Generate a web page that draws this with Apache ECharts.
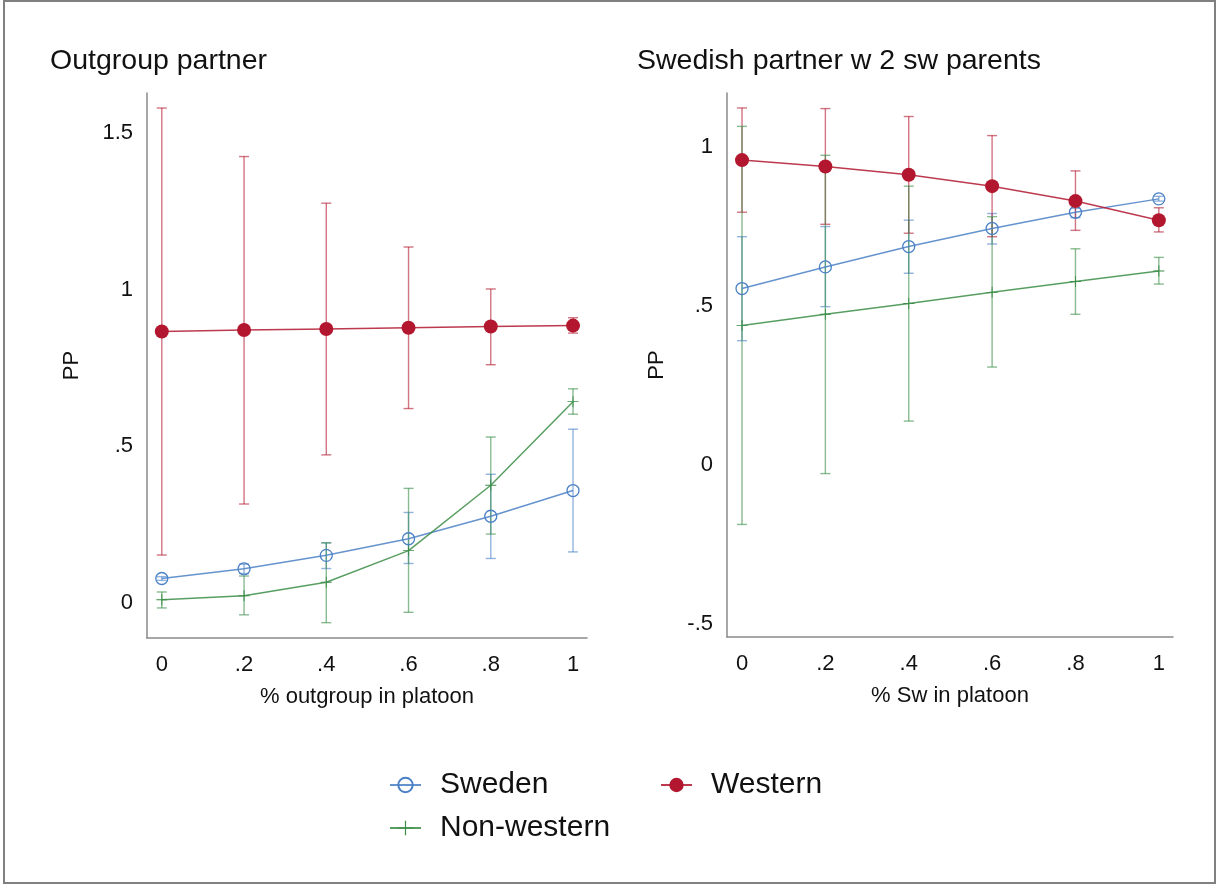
<!DOCTYPE html>
<html>
<head>
<meta charset="utf-8">
<script src="https://cdn.jsdelivr.net/npm/echarts@6/dist/echarts.min.js"></script>
<style>
  html, body { margin: 0; padding: 0; background: #fff; }
  #chart { width: 1216px; height: 884px; }
</style>
</head>
<body>
<div id="chart"></div>
<script>
// share of group in platoon (x positions, both panels)
const xVals = [0, 0.2, 0.4, 0.6, 0.8, 1];
const xTicks = [0, 0.2, 0.4, 0.6, 0.8, 1];

// left panel: Outgroup partner
const ogYTicks = [0, 0.5, 1, 1.5];
const ogSweden = [0.078, 0.109, 0.152, 0.205, 0.277, 0.359];
const ogSwedenLo = [0.072, 0.094, 0.110, 0.126, 0.142, 0.163];
const ogSwedenHi = [0.084, 0.124, 0.192, 0.289, 0.411, 0.555];
const ogWestern = [0.867, 0.872, 0.875, 0.879, 0.883, 0.886];
const ogWesternLo = [0.153, 0.316, 0.473, 0.621, 0.761, 0.862];
const ogWesternHi = [1.581, 1.426, 1.277, 1.137, 1.003, 0.911];
const ogNonWestern = [0.010, 0.023, 0.066, 0.167, 0.376, 0.643];
const ogNonWesternLo = [-0.016, -0.038, -0.063, -0.030, 0.220, 0.603];
const ogNonWesternHi = [0.035, 0.086, 0.192, 0.366, 0.530, 0.684];

// right panel: Swedish partner w 2 sw parents
const swYTicks = [-0.5, 0, 0.5, 1];
const swSweden = [0.555, 0.623, 0.687, 0.744, 0.795, 0.837];
const swSwedenLo = [0.391, 0.498, 0.603, 0.695, 0.778, 0.830];
const swSwedenHi = [0.718, 0.750, 0.770, 0.791, 0.807, 0.845];
const swWestern = [0.959, 0.939, 0.913, 0.877, 0.830, 0.770];
const swWesternLo = [0.795, 0.757, 0.729, 0.718, 0.738, 0.733];
const swWesternHi = [1.123, 1.121, 1.096, 1.036, 0.925, 0.809];
const swNonWestern = [0.439, 0.474, 0.508, 0.543, 0.577, 0.610];
const swNonWesternLo = [-0.187, -0.027, 0.138, 0.308, 0.474, 0.569];
const swNonWesternHi = [1.065, 0.974, 0.877, 0.781, 0.680, 0.653];

const FONT = '"Liberation Sans", Arial, sans-serif';
const BLUE = '#4a80c6';
const RED = '#b2172f';
const GREEN = '#3b8d47';
const AXIS = '#8a8a8a';
const PLUS = 'path://M0,5.5h12v1h-12z M5.5,0h1v12h-1z';

const fmt = v => String(v).replace('0.', '.');

function pairs(ys) { return xVals.map((x, i) => [x, ys[i]]); }
function triples(lo, hi) { return xVals.map((x, i) => [x, lo[i], hi[i]]); }

function errorBars(name, color, lo, hi, idx) {
  return {
    type: 'custom', name: name, xAxisIndex: idx, yAxisIndex: idx, z: 1,
    encode: { x: 0, y: [1, 2] },
    data: triples(lo, hi),
    renderItem: function (params, api) {
      const a = api.coord([api.value(0), api.value(1)]);
      const b = api.coord([api.value(0), api.value(2)]);
      const hw = 5;
      const st = { stroke: color, lineWidth: 1.4, opacity: 0.6 };
      return {
        type: 'group', children: [
          { type: 'line', shape: { x1: a[0], y1: a[1], x2: b[0], y2: b[1] }, style: st },
          { type: 'line', shape: { x1: a[0] - hw, y1: a[1], x2: a[0] + hw, y2: a[1] }, style: st },
          { type: 'line', shape: { x1: b[0] - hw, y1: b[1], x2: b[0] + hw, y2: b[1] }, style: st }
        ]
      };
    }
  };
}

function line(name, color, ys, idx, symbol, size, fill) {
  return {
    type: 'line', name: name, xAxisIndex: idx, yAxisIndex: idx, z: 3,
    data: pairs(ys),
    symbol: symbol, symbolSize: size, showSymbol: true,
    lineStyle: { color: color, width: 1.5, opacity: 0.85 },
    itemStyle: { color: fill, borderColor: color, borderWidth: fill === color ? 0 : 1.3 },
    emphasis: { disabled: true }
  };
}

function xAxis(idx, name) {
  return {
    type: 'value', gridIndex: idx, min: -0.036, max: 1.034,
    name: name, nameLocation: 'middle', nameGap: 48,
    nameTextStyle: { fontFamily: FONT, fontSize: 22, color: '#111' },
    axisLine: { onZero: false, lineStyle: { color: AXIS, width: 1.5 } },
    axisTick: { show: false },
    splitLine: { show: false },
    axisLabel: { customValues: xTicks, formatter: fmt, margin: 16, fontFamily: FONT, fontSize: 22, color: '#111' }
  };
}

function yAxis(idx, min, max, ticks, gap) {
  return {
    type: 'value', gridIndex: idx, min: min, max: max,
    name: 'PP', nameLocation: 'middle', nameGap: gap, nameRotate: 90,
    nameTextStyle: { fontFamily: FONT, fontSize: 22, color: '#111' },
    axisLine: { show: true, onZero: false, lineStyle: { color: AXIS, width: 1.5 } },
    axisTick: { show: false },
    splitLine: { show: false },
    axisLabel: { customValues: ticks, formatter: fmt, margin: 14, fontFamily: FONT, fontSize: 22, color: '#111' }
  };
}

const legendBase = {
  orient: 'vertical', itemWidth: 31, itemHeight: 18, itemGap: 13,
  textStyle: { fontFamily: FONT, fontSize: 30, color: '#111', padding: [0, 0, 0, 14] }
};

const option = {
  animation: false,
  backgroundColor: '#fff',
  title: [
    { text: 'Outgroup partner', left: 45, top: 42,
      textStyle: { fontFamily: FONT, fontSize: 28.5, fontWeight: 'normal', color: '#111' } },
    { text: 'Swedish partner w 2 sw parents', left: 632, top: 42,
      textStyle: { fontFamily: FONT, fontSize: 28.5, fontWeight: 'normal', color: '#111' } }
  ],
  legend: [
    Object.assign({}, legendBase, { data: ['Sweden', 'Non-western'], left: 384, top: 765 }),
    Object.assign({}, legendBase, { data: ['Western'], left: 655, top: 765 })
  ],
  grid: [
    { left: 147, top: 93, width: 440, height: 545 },
    { left: 727, top: 93, width: 446, height: 544 }
  ],
  xAxis: [xAxis(0, '% outgroup in platoon'), xAxis(1, '% Sw in platoon')],
  yAxis: [yAxis(0, -0.112, 1.629, ogYTicks, 64), yAxis(1, -0.541, 1.17, swYTicks, 59)],
  graphic: [
    { type: 'rect', shape: { x: 4, y: 1, width: 1211, height: 882 },
      style: { fill: 'none', stroke: '#808080', lineWidth: 2 }, silent: true }
  ],
  series: [
    line('Sweden', BLUE, ogSweden, 0, 'circle', 12, 'rgba(255,255,255,0)'),
    line('Western', RED, ogWestern, 0, 'circle', 14, RED),
    line('Non-western', GREEN, ogNonWestern, 0, PLUS, 11, GREEN),
    line('Sweden', BLUE, swSweden, 1, 'circle', 12, 'rgba(255,255,255,0)'),
    line('Western', RED, swWestern, 1, 'circle', 14, RED),
    line('Non-western', GREEN, swNonWestern, 1, PLUS, 11, GREEN),
    errorBars('Sweden', BLUE, ogSwedenLo, ogSwedenHi, 0),
    errorBars('Western', RED, ogWesternLo, ogWesternHi, 0),
    errorBars('Non-western', GREEN, ogNonWesternLo, ogNonWesternHi, 0),
    errorBars('Sweden', BLUE, swSwedenLo, swSwedenHi, 1),
    errorBars('Western', RED, swWesternLo, swWesternHi, 1),
    errorBars('Non-western', GREEN, swNonWesternLo, swNonWesternHi, 1)
  ]
};

const chart = echarts.init(document.getElementById('chart'), null, { renderer: 'canvas' });
chart.setOption(option);
</script>
</body>
</html>
